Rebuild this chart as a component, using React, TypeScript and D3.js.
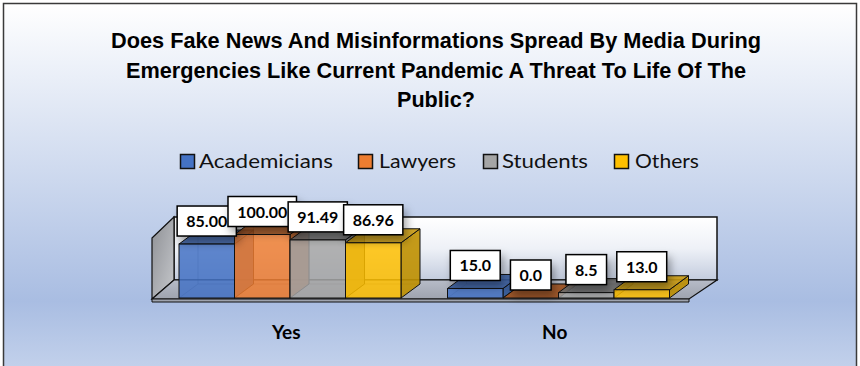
import React from "react";
import * as d3 from "d3";

const W = 860;
const H = 366;

const titleLines = [
  "Does Fake News And Misinformations Spread By Media During",
  "Emergencies Like Current Pandemic A Threat To Life Of The",
  "Public?",
];
const categories = ["Yes", "No"];
const seriesNames = ["Academicians", "Lawyers", "Students", "Others"];
const academicians = [85.0, 15.0];
const lawyers = [100.0, 0.0];
const students = [91.49, 8.5];
const others = [86.96, 13.0];
const seriesValues = [academicians, lawyers, students, others];
const labelDecimals = [2, 1];

const frontColors = ["#4472c4", "#ed7d31", "#a5a5a5", "#ffc000"];
const sideColors = ["#2f5597", "#b85a1e", "#7a7a7a", "#bf9000"];
const topColors = ["#3a5fa3", "#a0501c", "#6e6e6e", "#c99a10"];

// layout constants
const titleWidths = [650, 620, 78];
const titleCenter = 436;
const titleBaselines = [48, 78, 107];
const legendSquareX = [180, 358, 483, 614];
const legendTextX = [199, 379, 502, 635];
const legendTextW = [134, 77, 86, 64];

const BAR_DX = 19;
const BAR_DY = -14;

export default function App() {
  const x0 = d3.scaleBand<string>().domain(categories).range([152, 689]);
  const xInner = d3.scaleBand<string>().domain(seriesNames).range([27, 249]);
  const y = d3.scaleLinear().domain([0, 100]).range([298, 234.5]);
  const y0 = y(0);

  const bars: any[] = [];
  categories.forEach((cat, ci) => {
    seriesNames.forEach((s, si) => {
      const v = seriesValues[si][ci];
      const x = (x0(cat) as number) + (xInner(s) as number);
      const w = xInner.bandwidth();
      bars.push({ ci, si, v, x, w, yt: y(v), label: v.toFixed(labelDecimals[ci]) });
    });
  });

  const labelWidth = (t: string) => {
    let n = 0;
    for (const c of t) n += c === "." ? 4 : 9.3;
    return n + 18;
  };

  const pts = (a: number[][]) => a.map((p) => p.join(",")).join(" ");

  // walls
  const fl = { fx1: 152, fx2: 689, fy: 299, bx1: 174, bx2: 717, by: 280 };

  return (
    <svg width={W} height={H} style={{ position: "absolute", left: 0, top: 0 }}
      xmlns="http://www.w3.org/2000/svg">
      <defs>
        <linearGradient id="bg" x1="0" y1="0" x2="0" y2="1">
          <stop offset="0" stopColor="#ffffff" />
          <stop offset="0.8" stopColor="#a9bde2" />
          <stop offset="1" stopColor="#c5d3ec" />
        </linearGradient>
        <linearGradient id="back" x1="0" y1="0" x2="0" y2="1">
          <stop offset="0" stopColor="#ffffff" />
          <stop offset="0.5" stopColor="#eef1f7" />
          <stop offset="1" stopColor="#c3ccde" />
        </linearGradient>
        <linearGradient id="left" x1="0" y1="0" x2="1" y2="1">
          <stop offset="0" stopColor="#8d8f94" />
          <stop offset="1" stopColor="#c6c8cc" />
        </linearGradient>
        <linearGradient id="floor" x1="0" y1="0" x2="0" y2="1">
          <stop offset="0" stopColor="#b7bcc8" />
          <stop offset="1" stopColor="#9ea3ae" />
        </linearGradient>
        <filter id="sh" x="-50%" y="-50%" width="200%" height="200%">
          <feDropShadow dx="3" dy="6" stdDeviation="4" floodColor="#000" floodOpacity="0.35" />
        </filter>
      </defs>
      <rect x={0} y={0} width={W} height={H} fill="#ffffff" />
      <rect x={3.5} y={3.5} width={853} height={372} fill="url(#bg)" stroke="#3a3a3a" strokeWidth={1.5} />

      {titleLines.map((t, i) => (
        <text key={i} x={titleCenter} y={titleBaselines[i]} textAnchor="middle"
          fontFamily="'Liberation Sans Narrow', 'Liberation Sans', Arial, sans-serif"
          fontWeight="bold" fontSize={22} fill="#000"
          textLength={titleWidths[i]} lengthAdjust="spacingAndGlyphs">{t}</text>
      ))}

      {seriesNames.map((s, i) => (
        <g key={s}>
          <rect x={legendSquareX[i] + 0.5} y={154.5} width={14} height={14}
            fill={frontColors[i]} stroke="#111" strokeWidth={1.5} />
          <text x={legendTextX[i]} y={168} fontFamily="Lato, 'Open Sans', sans-serif"
            fontSize={19} fill="#111" textLength={legendTextW[i]}
            lengthAdjust="spacingAndGlyphs">{s}</text>
        </g>
      ))}

      {/* back wall */}
      <rect x={fl.bx1} y={217} width={fl.bx2 - fl.bx1} height={fl.by - 217}
        fill="url(#back)" stroke="#111" strokeWidth={1.5} />
      {/* left wall */}
      <polygon points={pts([[152, 238], [fl.bx1, 217], [fl.bx1, fl.by], [152, fl.fy]])}
        fill="url(#left)" stroke="#111" strokeWidth={1.2} />
      {/* floor */}
      <polygon points={pts([[fl.fx1, fl.fy], [fl.bx1, fl.by], [fl.bx2, fl.by], [fl.fx2, fl.fy]])}
        fill="url(#floor)" stroke="#111" strokeWidth={1.2} />
      <polygon points={pts([[fl.fx1, fl.fy], [fl.fx2, fl.fy], [fl.fx2, fl.fy + 3], [fl.fx1, fl.fy + 3]])}
        fill="#9ea3ae" stroke="#111" strokeWidth={1} />

      {bars.map((b, i) => {
        const { x, w, yt, si } = b;
        const yb = y0;
        return (
          <g key={"bar" + i}>
            <g stroke="#000" strokeOpacity={0.35} strokeWidth={0.8} fill="none">
              <line x1={x + BAR_DX} y1={yt + BAR_DY} x2={x + BAR_DX} y2={yb + BAR_DY} />
              <line x1={x + BAR_DX} y1={yb + BAR_DY} x2={x + w + BAR_DX} y2={yb + BAR_DY} />
              <line x1={x} y1={yb} x2={x + BAR_DX} y2={yb + BAR_DY} />
            </g>
            <polygon points={pts([[x + w, yt], [x + w + BAR_DX, yt + BAR_DY], [x + w + BAR_DX, yb + BAR_DY], [x + w, yb]])}
              fill={sideColors[si]} fillOpacity={0.9} stroke="#111" strokeWidth={1} />
            <polygon points={pts([[x, yt], [x + w, yt], [x + w + BAR_DX, yt + BAR_DY], [x + BAR_DX, yt + BAR_DY]])}
              fill={topColors[si]} fillOpacity={0.9} stroke="#111" strokeWidth={1} />
            <rect x={x} y={yt} width={w} height={Math.max(0, yb - yt)}
              fill={frontColors[si]} fillOpacity={0.85} stroke="#111" strokeWidth={1} />
          </g>
        );
      })}

      {bars.map((b, i) => {
        const lw = labelWidth(b.label);
        const cx = b.x + b.w / 2;
        const bottom = b.yt - 8;
        return (
          <g key={"lab" + i}>
            <rect x={cx - lw / 2} y={bottom - 30} width={lw} height={30}
              fill="#fff" stroke="#000" strokeWidth={1.5} filter="url(#sh)" />
            <text x={cx} y={bottom - 9} textAnchor="middle"
              fontFamily="Lato, 'Open Sans', sans-serif" fontWeight="bold" fontSize={16}
              fill="#000">{b.label}</text>
          </g>
        );
      })}

      {categories.map((c) => (
        <text key={c} x={(x0(c) as number) + x0.bandwidth() / 2} y={339} textAnchor="middle"
          fontFamily="Lato, 'Open Sans', sans-serif" fontWeight="bold" fontSize={19}
          fill="#000">{c}</text>
      ))}
    </svg>
  );
}
